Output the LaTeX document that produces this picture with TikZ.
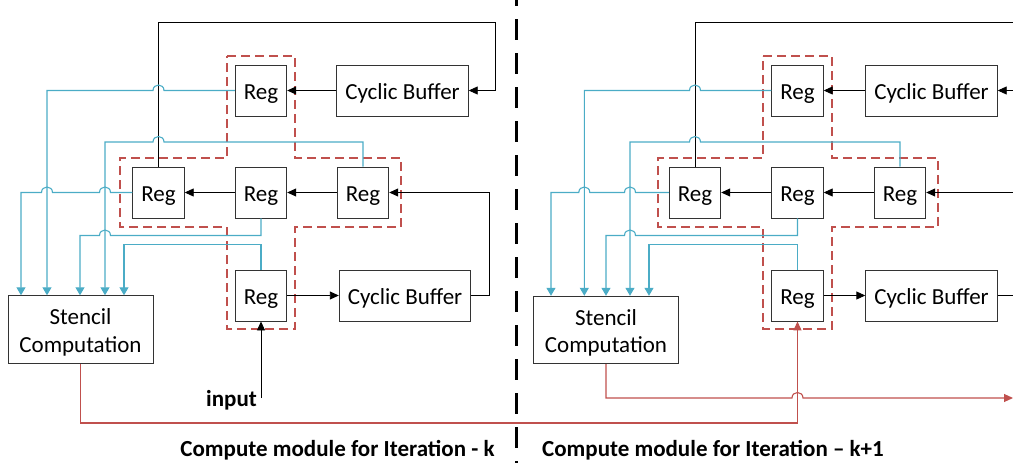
\documentclass[tikz,border=0pt]{standalone}
\usepackage{fontspec}
\setmainfont{Carlito}
\usetikzlibrary{arrows.meta}
\definecolor{aqua}{HTML}{4BACC6}
\definecolor{brick}{HTML}{C0504D}
\newcommand{\lowr}[1]{\raisebox{-3pt}[\height][\depth]{#1}}
\tikzset{
  box/.style={draw=black!80, line width=0.9pt, inner sep=0pt, font=\fontsize{23}{27.5}\selectfont},
  reg/.style={box, minimum width=51.5pt, minimum height=51pt, text depth=0pt, text height=17pt},
  cbuf/.style={box, minimum width=131.5pt, minimum height=51pt, text depth=0pt, text height=17pt},
  stencil/.style={box, minimum width=145pt, minimum height=67.5pt, align=center},
  blk/.style={draw=black, line width=0.9pt, -{Triangle[length=9pt,width=8pt]}},
  blkline/.style={draw=black, line width=0.9pt},
  bl/.style={draw=aqua, line width=1.1pt, -{Triangle[length=8pt,width=9pt]}},
  rd/.style={draw=brick, line width=1.1pt, -{Triangle[length=9pt,width=8pt]}},
  group/.style={draw=brick, line width=1.7pt, dash pattern=on 9pt off 5pt},
  divider/.style={draw=black, line width=2.6pt, dash pattern=on 21pt off 13pt, dash phase=15pt},
  title/.style={font=\fontsize{23}{28}\selectfont\bfseries, inner sep=0pt},
}
\begin{document}
\begin{tikzpicture}[x=1pt, y=-1pt]
\useasboundingbox (0,0) rectangle (1013,463);

% ---------------- Left module (iteration k) ----------------
\draw[group] (227,56) -- (295,56) -- (295,158) -- (401,158) -- (401,227) -- (295,227) -- (295,329) -- (227,329) -- (227,227) -- (120,227) -- (120,158) -- (227,158) -- cycle;

\node[reg] (r1) at (261,90.5) {Reg};
\node[cbuf] (cb1) at (402.5,90.5) {Cyclic Buffer};
\node[reg] (r2) at (158.5,192.5) {Reg};
\node[reg] (r3) at (261,192.5) {Reg};
\node[reg] (r4) at (363,192.5) {Reg};
\node[reg] (r5) at (261,295.5) {Reg};
\node[cbuf] (cb2) at (405,295.5) {Cyclic Buffer};
\node[stencil] (st) at (80.5,329.5) {\lowr{Stencil}\\\lowr{Computation}};
\node[title, anchor=east] (inp) at (257,400) {input};
\coordinate (inpt) at (261,398);

% black connectors
\draw[blk] (r2.north) -- (158.5,22) -- (495,22) -- (495,90.5) -- (cb1.east);
\draw[blk] (cb1.west) -- (r1.east);
\draw[blk] (r4.west) -- (r3.east);
\draw[blk] (r3.west) -- (r2.east);
\draw[blk] (r5.east) -- (cb2.west);
\draw[blk] (cb2.east) -- (489,295.5) -- (489,192.5) -- (r4.east);
\draw[blk] (inpt) -- (r5.south);

% blue connectors
\draw[bl] (r1.west) -- (164,90.5) .. controls (164,83.2) and (153,83.2) .. (153,90.5) -- (47,90.5) -- (47,0 |- st.north);
\draw[bl] (r4.north) -- (363,142) -- (164,142) .. controls (164,134.7) and (153,134.7) .. (153,142) -- (105,142) -- (105,0 |- st.north);
\draw[bl] (r2.west) -- (110.5,192.5) .. controls (110.5,185.2) and (99.5,185.2) .. (99.5,192.5) -- (52.5,192.5) .. controls (52.5,185.2) and (41.5,185.2) .. (41.5,192.5) -- (21,192.5) -- (21,0 |- st.north);
\draw[bl] (r3.south) -- (261,235.5) -- (110.5,235.5) .. controls (110.5,228.2) and (99.5,228.2) .. (99.5,235.5) -- (80,235.5) -- (80,0 |- st.north);
\draw[bl] (r5.north) -- (261,244.5) -- (124,244.5) -- (124,0 |- st.north);

% ---------------- Right module (iteration k+1) ----------------
\draw[group] (763,56) -- (832,56) -- (832,158) -- (938,158) -- (938,227) -- (832,227) -- (832,329) -- (763,329) -- (763,227) -- (658,227) -- (658,158) -- (763,158) -- cycle;

\node[reg] (q1) at (797.5,90.5) {Reg};
\node[cbuf] (qcb1) at (931.5,90.5) {Cyclic Buffer};
\node[reg] (q2) at (695,192.5) {Reg};
\node[reg] (q3) at (797.5,192.5) {Reg};
\node[reg] (q4) at (900,192.5) {Reg};
\node[reg] (q5) at (797.5,295.5) {Reg};
\node[cbuf] (qcb2) at (931.5,295.5) {Cyclic Buffer};
\node[stencil] (qst) at (606,330) {\lowr{Stencil}\\\lowr{Computation}};

\coordinate (e1) at (1013,22);
\coordinate (e2) at (1013,90.5);
\coordinate (e3) at (1013,192.5);
\coordinate (e4) at (1013,295.5);
\coordinate (e5) at (1013,398);

\draw[blkline] (q2.north) -- (695,22) -- (e1);
\draw[blk] (e2) -- (qcb1.east);
\draw[blk] (qcb1.west) -- (q1.east);
\draw[blk] (q4.west) -- (q3.east);
\draw[blk] (q3.west) -- (q2.east);
\draw[blk] (e3) -- (q4.east);
\draw[blk] (q5.east) -- (qcb2.west);
\draw[blkline] (qcb2.east) -- (e4);

\draw[bl] (q1.west) -- (700.5,90.5) .. controls (700.5,83.2) and (689.5,83.2) .. (689.5,90.5) -- (584.3,90.5) -- (584.3,0 |- qst.north);
\draw[bl] (q4.north) -- (900,142) -- (700.5,142) .. controls (700.5,134.7) and (689.5,134.7) .. (689.5,142) -- (630,142) -- (630,0 |- qst.north);
\draw[bl] (q2.west) -- (635.5,192.5) .. controls (635.5,185.2) and (624.5,185.2) .. (624.5,192.5) -- (589.8,192.5) .. controls (589.8,185.2) and (578.8,185.2) .. (578.8,192.5) -- (551,192.5) -- (551,0 |- qst.north);
\draw[bl] (q3.south) -- (797.5,235.5) -- (635.5,235.5) .. controls (635.5,228.2) and (624.5,228.2) .. (624.5,235.5) -- (606,235.5) -- (606,0 |- qst.north);
\draw[bl] (q5.north) -- (797.5,244.5) -- (649,244.5) -- (649,0 |- qst.north);

% red data flow
\draw[rd] (st.south) -- (80.5,423) -- (797.5,423) -- (q5.south);
\draw[rd] (qst.south) -- (606,398) -- (792,398) .. controls (792,390.7) and (803,390.7) .. (803,398) -- (e5);

% divider and titles
\draw[divider] (516.5,0) -- (516.5,463);
\node[title] (t1) at (337.5,450) {Compute module for Iteration - k};
\node[title] (t2) at (713,450) {Compute module for Iteration \textendash{} k+1};
\end{tikzpicture}
\end{document}
